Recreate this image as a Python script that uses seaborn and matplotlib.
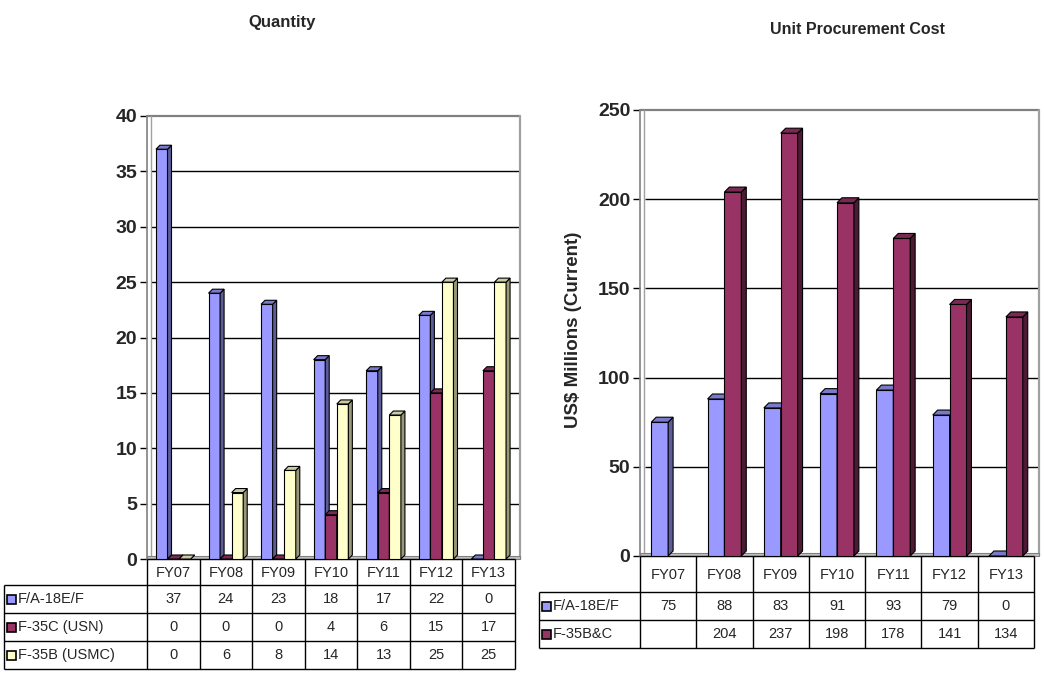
import numpy as np
import pandas as pd
import matplotlib
matplotlib.use("Agg")
import matplotlib.pyplot as plt
import seaborn as sns
from matplotlib.patches import Polygon, Rectangle
from matplotlib.transforms import blended_transform_factory

# ---- data -------------------------------------------------------------
years = ["FY07", "FY08", "FY09", "FY10", "FY11", "FY12", "FY13"]

qty_series = ["F/A-18E/F", "F-35C (USN)", "F-35B (USMC)"]
qty_fa18 = [37, 24, 23, 18, 17, 22, 0]
qty_f35c = [0, 0, 0, 4, 6, 15, 17]
qty_f35b = [0, 6, 8, 14, 13, 25, 25]

cost_series = ["F/A-18E/F", "F-35B&C"]
cost_fa18 = [75, 88, 83, 91, 93, 79, 0]
cost_f35 = [np.nan, 204, 237, 198, 178, 141, 134]

qty_ticks = [0, 5, 10, 15, 20, 25, 30, 35, 40]
cost_ticks = [0, 50, 100, 150, 200, 250]

# face / side / top shades for each series
qty_colors = ["#9999FF", "#993366", "#FFFFCC"]
qty_sides = ["#5C5C99", "#4D1A33", "#99997A"]
qty_tops = ["#7A7ACC", "#7A2952", "#CCCCA3"]
cost_colors = ["#9999FF", "#993366"]
cost_sides = ["#5C5C99", "#4D1A33"]
cost_tops = ["#7A7ACC", "#7A2952"]

W, H = 1044, 675
TABLE_FS = 10.5
TICK_FS = 14

sns.set_theme(style="white")
plt.rcParams["font.family"] = ["Liberation Sans", "DejaVu Sans"]

fig = plt.figure(figsize=(W / 100, H / 100), dpi=100)
fig.patch.set_facecolor("white")


def px_axes(left, right, top, bottom):
    return fig.add_axes([left / W, 1 - bottom / H, (right - left) / W, (bottom - top) / H])


def long_frame(series_names, columns):
    rows = []
    for name, vals in zip(series_names, columns):
        for yr, v in zip(years, vals):
            rows.append({"year": yr, "series": name, "value": v})
    return pd.DataFrame(rows)


def draw_chart(ax, df, names, colors, sides, tops, ticks, width, col_px, depth_px):
    sns.barplot(data=df.dropna(), x="year", y="value", hue="series", order=years,
                hue_order=names, palette=colors, saturation=1, width=width,
                edgecolor="black", linewidth=0.8, errorbar=None, legend=False, ax=ax)
    ymax = ticks[-1]
    ax.set_xlim(-0.5, len(years) - 0.5 + 5 / col_px)
    ax.set_ylim(0, ymax)
    ax_h_px = ax.get_window_extent().height
    dx = depth_px / col_px
    dy = depth_px * ymax / ax_h_px

    # extruded sides and tops for every bar
    for k, cont in enumerate(ax.containers):
        for bar in cont:
            x, w, h = bar.get_x(), bar.get_width(), bar.get_height()
            if not np.isfinite(h):
                continue
            z = 3 + k
            bar.set_zorder(z)
            side = Polygon([(x + w, 0), (x + w + dx, dy), (x + w + dx, h + dy), (x + w, h)],
                           closed=True, facecolor=sides[k], edgecolor="black", lw=0.8, zorder=z)
            top = Polygon([(x, h), (x + dx, h + dy), (x + w + dx, h + dy), (x + w, h)],
                          closed=True, facecolor=tops[k], edgecolor="black", lw=0.8, zorder=z)
            ax.add_patch(side)
            ax.add_patch(top)

    # back wall grid lines
    x0 = -0.5 + dx
    x1 = ax.get_xlim()[1]
    ax.hlines(ticks[1:-1], x0, x1, colors="black", lw=1.0, zorder=1)

    for s in ax.spines.values():
        s.set_visible(False)
    # walls and floor
    ax.plot([0, 1], [1, 1], transform=ax.transAxes, color="#808080", lw=1.6, clip_on=False, zorder=1)
    ax.plot([1, 1], [0, 1], transform=ax.transAxes, color="#A0A0A0", lw=1.6, clip_on=False, zorder=1)
    ax.plot([0, 0], [0, 1], transform=ax.transAxes, color="#808080", lw=1.2, clip_on=False, zorder=1)
    off = 4 / ax.get_window_extent().width
    ax.plot([off, off], [0, 1], transform=ax.transAxes, color="#A0A0A0", lw=1.0, clip_on=False, zorder=1)
    floor_h = 3 / ax_h_px
    ax.add_patch(Rectangle((0, 0), 1, floor_h, transform=ax.transAxes, facecolor="#C0C0C0",
                           edgecolor="#808080", lw=0.8, zorder=1.5, clip_on=False))

    ax.set_yticks(ticks)
    ax.set_yticklabels([str(t) for t in ticks], fontweight="bold", fontsize=TICK_FS)
    ax.tick_params(axis="y", left=True, length=5, width=1, color="black", pad=2)
    ax.set_xticks([])
    ax.set_xlabel("")
    ax.set_ylabel("")
    ax.set_facecolor("white")


def draw_table(ax, names, colors, columns, label_left_px, col_px, lines_px, fmt):
    trans = blended_transform_factory(ax.transData, fig.transFigure)
    fy = lambda p: 1 - p / H
    n = len(years)
    xl = -0.5 - (ax.get_window_extent().x0 - label_left_px) / col_px
    xr = -0.5 + n
    kw = dict(transform=trans, color="black", lw=1.0, clip_on=False, solid_capstyle="butt")
    # header row: column cells only
    for i in range(n + 1):
        ax.plot([-0.5 + i] * 2, [fy(lines_px[0]), fy(lines_px[-1])], **kw)
    ax.plot([xl, xl], [fy(lines_px[1]), fy(lines_px[-1])], **kw)
    ax.plot([-0.5, xr], [fy(lines_px[0])] * 2, **kw)
    for yp in lines_px[1:]:
        ax.plot([xl, xr], [fy(yp)] * 2, **kw)
    hc = (lines_px[0] + lines_px[1]) / 2 + 1
    for i, yr in enumerate(years):
        ax.text(i, fy(hc), yr, transform=trans, ha="center", va="center",
                fontsize=TABLE_FS, clip_on=False)
    sq = 9
    for r, (name, col, vals) in enumerate(zip(names, colors, columns)):
        yc = (lines_px[r + 1] + lines_px[r + 2]) / 2
        ax.add_patch(Rectangle((xl + 3 / col_px, fy(yc + sq / 2)), sq / col_px, sq / H,
                               transform=trans, facecolor=col, edgecolor="black", lw=1.2,
                               clip_on=False))
        ax.text(xl + (3 + sq + 2) / col_px, fy(yc), name, transform=trans, ha="left",
                va="center", fontsize=TABLE_FS, clip_on=False)
        for i, v in enumerate(vals):
            ax.text(i, fy(yc), fmt(v), transform=trans, ha="center", va="center",
                    fontsize=TABLE_FS, clip_on=False)


fmt = lambda v: "" if (v is None or (isinstance(v, float) and np.isnan(v))) else str(int(v))

# ---- left: quantities ---------------------------------------------------
ax1 = px_axes(147, 520, 116, 559)
df_q = long_frame(qty_series, [qty_fa18, qty_f35c, qty_f35b])
draw_chart(ax1, df_q, qty_series, qty_colors, qty_sides, qty_tops, qty_ticks, 0.66, 52.5, 4)
draw_table(ax1, qty_series, qty_colors, [qty_fa18, qty_f35c, qty_f35b], 4, 52.5,
           [559, 585, 613, 641, 669], fmt)

# ---- right: unit cost ---------------------------------------------------
ax2 = px_axes(640, 1039, 110, 556)
df_c = long_frame(cost_series, [cost_fa18, cost_f35])
draw_chart(ax2, df_c, cost_series, cost_colors, cost_sides, cost_tops, cost_ticks, 0.6, 57, 5)
draw_table(ax2, cost_series, cost_colors, [cost_fa18, cost_f35], 538, 57,
           [556, 592, 620, 648], fmt)

fig.text(282 / W, 1 - 22 / H, "Quantity", ha="center", va="center", fontsize=12, fontweight="bold")
fig.text(857 / W, 1 - 30 / H, "Unit Procurement Cost", ha="center", va="center",
         fontsize=11.5, fontweight="bold")
fig.text(573 / W, 1 - 330 / H, "US$ Millions (Current)", ha="center", va="center",
         rotation=90, fontsize=13.5, fontweight="bold")

fig.savefig("out.png", dpi=100, facecolor="white")
